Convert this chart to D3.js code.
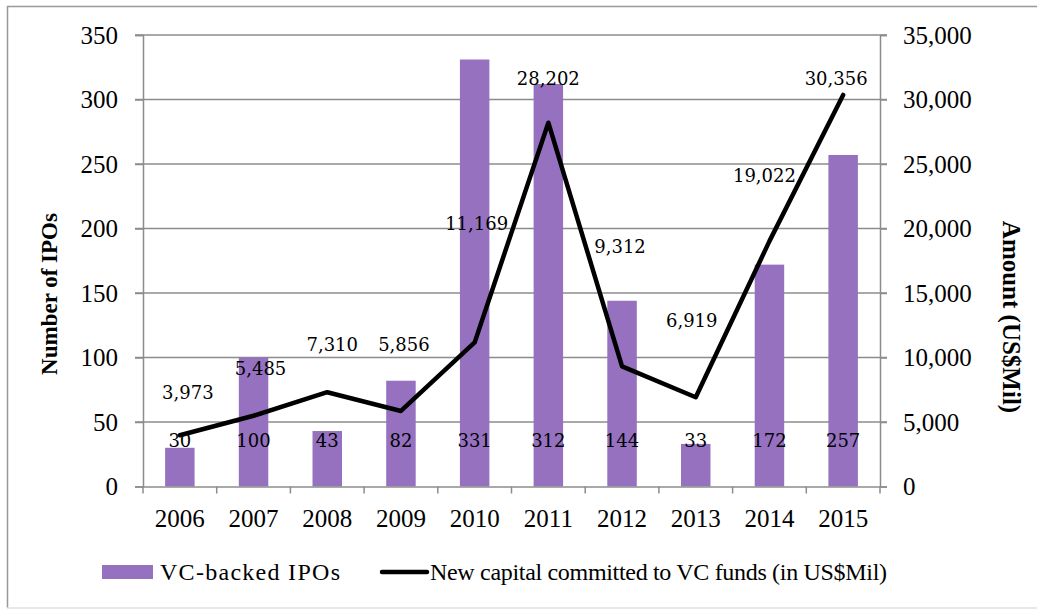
<!DOCTYPE html>
<html><head><meta charset="utf-8">
<script src="https://cdn.jsdelivr.net/npm/d3@7"></script>
<style>body{margin:0;background:#fff}</style>
</head><body>
<svg id="c" width="1037" height="610"></svg>
<script>
const years = ["2006","2007","2008","2009","2010","2011","2012","2013","2014","2015"];
const ipos = [30,100,43,82,331,312,144,33,172,257];
const capital = [3973,5485,7310,5856,11169,28202,9312,6919,19022,30356];
const leftTicks = [0,50,100,150,200,250,300,350];
const rightTicks = [0,5000,10000,15000,20000,25000,30000,35000];
// label offsets (px) for line data labels, relative to each point
const lineLabelOffsets = [[8,-36],[7,-41],[5,-41],[3,-60],[2,-112],[0,-38],[-2,-113],[-4,-70],[-5,-59],[-7,-10]];

const svg = d3.select("#c");
const L = 143, R = 880, T = 35, B = 486.5;
const x = d3.scaleBand().domain(years).range([L, R]).padding(0);
const yL = d3.scaleLinear().domain([0,350]).range([B, T]);
const yR = d3.scaleLinear().domain([0,35000]).range([B, T]);
const serif = "'Liberation Serif','Times New Roman',serif";
const lblFont = "'DejaVu Serif',serif";
const grid = "#8c8c8c";

// frame
svg.append("line").attr("x1",7).attr("x2",1037).attr("y1",6.5).attr("y2",6.5).attr("stroke","#999").attr("stroke-width",1.5);
svg.append("line").attr("x1",7.5).attr("x2",7.5).attr("y1",6).attr("y2",608).attr("stroke","#999").attr("stroke-width",1.5);
svg.append("line").attr("x1",7).attr("x2",1037).attr("y1",608).attr("y2",608).attr("stroke","#e0e0e0").attr("stroke-width",1.5);

// gridlines
svg.append("g").selectAll("line").data(leftTicks.filter(d=>d>0)).join("line")
  .attr("x1",L-8).attr("x2",R+7).attr("y1",d=>yL(d)).attr("y2",d=>yL(d))
  .attr("stroke",grid).attr("stroke-width",1.5);

// left axis
const gl = svg.append("g").attr("transform",`translate(${L},0)`)
  .call(d3.axisLeft(yL).tickValues(leftTicks).tickSize(8).tickPadding(17).tickFormat(d3.format("d")));
gl.select(".domain").attr("stroke",grid).attr("stroke-width",1.5);
gl.selectAll(".tick line").attr("stroke",grid).attr("stroke-width",1.5);
gl.selectAll("text").attr("font-family",serif).attr("font-size",25).attr("fill","#000").attr("dy","0.33em");

// right axis
const gr = svg.append("g").attr("transform",`translate(${R},0)`)
  .call(d3.axisRight(yR).tickValues(rightTicks).tickSize(7).tickPadding(16).tickFormat(d3.format(",")));
gr.select(".domain").attr("stroke",grid).attr("stroke-width",1.5);
gr.selectAll(".tick line").attr("stroke",grid).attr("stroke-width",1.5);
gr.selectAll("text").attr("font-family",serif).attr("font-size",25).attr("fill","#000").attr("dy","0.33em");

// bars
const bw = x.bandwidth()*0.4;
svg.append("g").selectAll("rect").data(ipos).join("rect")
  .attr("x",(d,i)=>x(years[i])+x.bandwidth()/2-bw/2).attr("width",bw)
  .attr("y",d=>yL(d)).attr("height",d=>B-yL(d)).attr("fill","#9571c0");

// bottom axis
const gb = svg.append("g").attr("transform",`translate(0,${B})`)
  .call(d3.axisBottom(x).tickSize(0).tickPadding(0));
gb.select(".domain").attr("stroke",grid).attr("stroke-width",1.5);
gb.selectAll("text").attr("font-family",serif).attr("font-size",25).attr("fill","#000").attr("y",40).attr("dy",0);
svg.append("g").selectAll("line").data(d3.range(years.length+1)).join("line")
  .attr("x1",i=>L+i*x.step()).attr("x2",i=>L+i*x.step()).attr("y1",B).attr("y2",B+7)
  .attr("stroke",grid).attr("stroke-width",1.5);

// bar labels (inside base)
svg.append("g").selectAll("text").data(ipos).join("text")
  .attr("x",(d,i)=>x(years[i])+x.bandwidth()/2).attr("y",B-39.5)
  .attr("text-anchor","middle").attr("font-family",lblFont).attr("font-size",18).attr("fill","#000")
  .text(d=>d);

// line
const line = d3.line().x((d,i)=>x(years[i])+x.bandwidth()/2).y(d=>yR(d));
svg.append("path").datum(capital).attr("d",line).attr("fill","none")
  .attr("stroke","#000").attr("stroke-width",4.5).attr("stroke-linejoin","round").attr("stroke-linecap","round");

// line labels
svg.append("g").selectAll("text").data(capital).join("text")
  .attr("x",(d,i)=>x(years[i])+x.bandwidth()/2+lineLabelOffsets[i][0])
  .attr("y",(d,i)=>yR(d)+lineLabelOffsets[i][1])
  .attr("text-anchor","middle").attr("font-family",lblFont).attr("font-size",18).attr("fill","#000")
  .text(d=>d3.format(",")(d));

// axis titles
svg.append("text").attr("transform","translate(57,294) rotate(-90)").attr("text-anchor","middle")
  .attr("font-family",serif).attr("font-weight","bold").attr("font-size",23).text("Number of IPOs");
svg.append("text").attr("transform","translate(1003,317) rotate(90)").attr("text-anchor","middle")
  .attr("font-family",serif).attr("font-weight","bold").attr("font-size",25).text("Amount (US$Mil)");

// legend
const lg = svg.append("g");
lg.append("rect").attr("x",102).attr("y",565).attr("width",51).attr("height",14).attr("fill","#9571c0");
lg.append("text").attr("x",160).attr("y",580).attr("font-family",serif).attr("font-size",24)
  .attr("textLength",180).attr("lengthAdjust","spacing").text("VC-backed IPOs");
lg.append("line").attr("x1",382).attr("x2",427).attr("y1",572).attr("y2",572).attr("stroke","#000").attr("stroke-width",4.5).attr("stroke-linecap","round");
lg.append("text").attr("x",430).attr("y",580).attr("font-family",serif).attr("font-size",24)
  .attr("textLength",457).attr("lengthAdjust","spacing").text("New capital committed to VC funds (in US$Mil)");
</script>
</body></html>
